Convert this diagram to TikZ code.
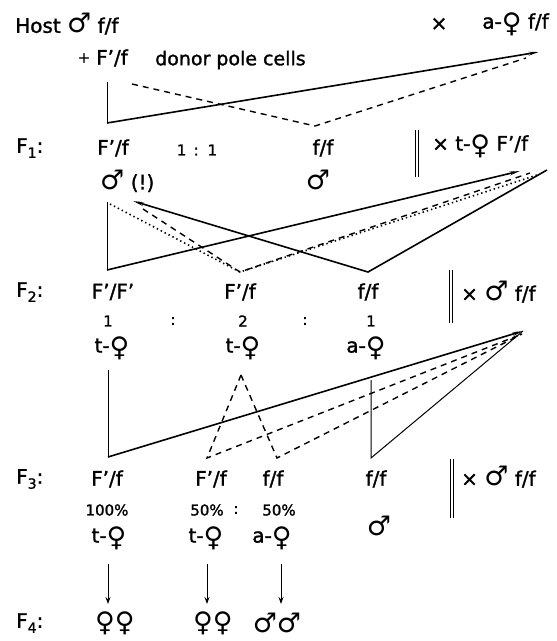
\documentclass[tikz,border=0pt]{standalone}
\usepackage{fontspec}
\setmainfont{DejaVu Sans}[BoldFont={DejaVu Sans},BoldFeatures={FakeBold=1.4}]
\usepackage{tikz}
\usetikzlibrary{arrows.meta}

\newcommand{\gen}[1]{F\raisebox{-0.45ex}{\fontsize{14}{14}\selectfont #1}:}
\newcommand{\fsym}{\raisebox{-0.18em}{\fontsize{27}{22}\selectfont\mdseries ♀}}
\newcommand{\msym}{{\fontsize{27}{22}\selectfont\mdseries ♂}}

\begin{document}
\begin{tikzpicture}[
  x=1pt, y=-1pt,
  every node/.style={inner sep=0pt, font=\fontsize{20}{22}\selectfont\bfseries},
  ratio/.style={font=\fontsize{15}{17}\selectfont\bfseries},
  note/.style={font=\fontsize{19}{21}\selectfont\bfseries},
  heavy/.style={line width=1.6pt},
  thin/.style={line width=1pt},
  dashline/.style={line width=1.4pt, dash pattern=on 6pt off 5pt},
  dotline/.style={line width=1.6pt, dash pattern=on 1.4pt off 3pt},
  tip/.style={-{Stealth[length=10pt,width=3.5pt]}},
  bar/.style={line width=0.9pt},
  down/.style={thin, -{Stealth[length=7pt,width=5pt]}}]
\useasboundingbox (0,0) rectangle (557,641);

% parents
\node[anchor=west] (host) at (15,24) {Host \msym\ f/f};
\node (x0) at (439,24) {×};
\node[anchor=east] (afem) at (549,24) {a-\fsym\ f/f};
\node[ratio] (plus) at (84,58) {+};
\node (donF) at (112,58) {F'/f};
\node[note, anchor=west] (donor) at (155,60) {donor pole cells};

% F1
\node[anchor=west] (g1) at (16,148) {\gen{1}};
\node (f1a) at (113,148) {F'/f};
\node[ratio] (r1) at (197,150) {1 \,:\, 1};
\node (f1b) at (323,148) {f/f};
\node[anchor=west] (c1) at (432,146) {× t-\fsym\ F'/f};
\node[anchor=west] (m1a) at (100,181) {\msym\ (!)};
\node (m1b) at (318,180) {\msym};

% F2
\node[anchor=west] (g2) at (16,292) {\gen{2}};
\node (f2a) at (113,292) {F'/F'};
\node (f2b) at (240,292) {F'/f};
\node (f2c) at (368,292) {f/f};
\node[anchor=west] (c2) at (461,292) {× \msym\ f/f};
\node[ratio] (q1) at (108,321) {1};
\node[ratio] (q2) at (173,321) {:};
\node[ratio] (q3) at (243,321) {2};
\node[ratio] (q4) at (305,321) {:};
\node[ratio] (q5) at (371,321) {1};
\node (s2a) at (112,348) {t-\fsym};
\node (s2b) at (243,348) {t-\fsym};
\node (s2c) at (366,348) {a-\fsym};

% F3
\node[anchor=west] (g3) at (16,479) {\gen{3}};
\node (f3a) at (107,479) {F'/f};
\node (f3b) at (211,479) {F'/f};
\node (f3c) at (273,479) {f/f};
\node (f3d) at (376,479) {f/f};
\node[anchor=west] (c3) at (461,477) {× \msym\ f/f};
\node[ratio] (p3a) at (107,510) {100\%};
\node[ratio] (p3b) at (207,510) {50\%};
\node[ratio] (p3c) at (236,510) {:};
\node[ratio] (p3d) at (279,510) {50\%};
\node (s3a) at (109,538) {t-\fsym};
\node (s3b) at (206,538) {t-\fsym};
\node (s3c) at (272,538) {a-\fsym};
\node (m3d) at (379,526) {\msym};

% F4
\node[anchor=west] (g4) at (16,623) {\gen{4}};
\node (f4a) at (115,623) {\fsym\fsym};
\node (f4b) at (213,623) {\fsym\fsym};
\node (f4c) at (277,623) {\msym\msym};

% crossing bars
\draw[bar] (415,130) -- (415,177) (418,130) -- (418,177);
\draw[bar] (449,270) -- (449,323) (452,270) -- (452,323);
\draw[bar] (450,459) -- (450,518) (453,459) -- (453,518);

% host x a-female
\coordinate (k1) at (107,82);
\coordinate (k1b) at (107,123);
\coordinate (k1x) at (539,52);
\coordinate (d1) at (132,84);
\coordinate (d1v) at (315,126);
\coordinate (d1x) at (526,58);
\draw[thin] (k1) -- (k1b);
\draw[heavy, tip] (k1b) -- (k1x);
\draw[dashline] (d1) -- (d1v) -- (d1x);

% F1 x t-female
\coordinate (k2) at (107,202);
\coordinate (k2b) at (107,270);
\coordinate (k2x) at (520,171);
\coordinate (o2) at (110,204);
\coordinate (v2) at (240,272);
\coordinate (o2x) at (537,175);
\coordinate (e2) at (143,209);
\coordinate (e2x) at (530,173);
\coordinate (t2) at (133,201);
\coordinate (t2v) at (368,272);
\coordinate (t2x) at (547,170);
\draw[thin] (k2) -- (k2b);
\draw[heavy, tip] (k2b) -- (k2x);
\draw[dotline] (o2) -- (v2) -- (o2x);
\draw[dashline] (e2) -- (v2) -- (e2x);
\draw[heavy, {Stealth[length=10pt,width=3.5pt]}-] (t2) -- (t2v) -- (t2x);

% F2 x male
\coordinate (k3) at (108,370);
\coordinate (k3b) at (108,457);
\coordinate (k3x) at (523,331);
\coordinate (a3) at (241,375);
\coordinate (a3l) at (207,458);
\coordinate (a3r) at (277,458);
\coordinate (a3x) at (522,334);
\coordinate (u3) at (371,380);
\coordinate (u3b) at (371,458);
\draw[thin] (k3) -- (k3b);
\draw[heavy, tip] (k3b) -- (k3x);
\draw[dashline] (a3) -- (a3l) -- (a3x);
\draw[dashline] (a3) -- (a3r) -- (a3x);
\draw[thin] (u3) -- (u3b) -- (k3x);

% F3 -> F4
\coordinate (w1) at (108,564);
\coordinate (w2) at (207,564);
\coordinate (w3) at (281,564);
\draw[down] (w1) -- (108,604);
\draw[down] (w2) -- (207,604);
\draw[down] (w3) -- (281,604);
\end{tikzpicture}
\end{document}
